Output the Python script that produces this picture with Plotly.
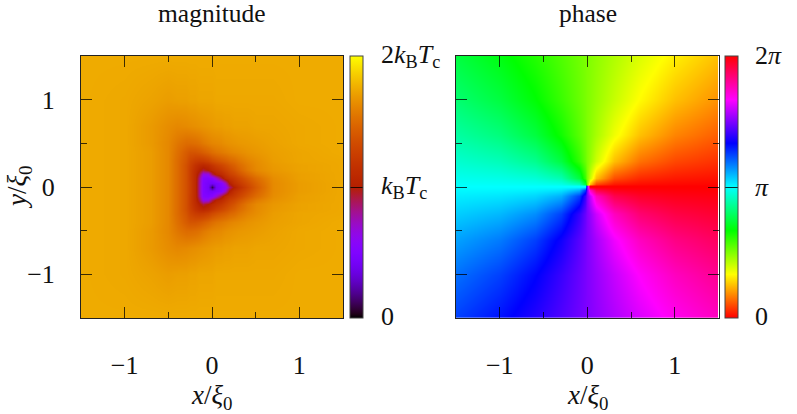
import math
import plotly.graph_objects as go

W, H = 797, 414
FONT = "Liberation Serif"

# magnitude (units of kB Tc); symmetric about y = 0
MAG_X = [-1.5,-1,-.7,-.5,-.4,-.3,-.25,-.2,-.15,-.1,-.05,0,.05,.1,.15,.2,.25,.3,.4,.5,.7,1,1.5]
MAG_Y_UPPER = [0,.05,.1,.15,.2,.25,.3,.4,.5,.7,1,1.5]
MAG_UPPER = [
 [1.75,1.74,1.70,1.62,1.50,1.36,1.25,1.10,0.80,0.50,0.42,0.10,0.42,0.50,0.56,0.84,1.02,1.12,1.28,1.42,1.63,1.70,1.74],
 [1.75,1.74,1.70,1.62,1.50,1.36,1.25,1.10,0.80,0.50,0.44,0.42,0.46,0.52,0.72,1.00,1.14,1.20,1.33,1.45,1.63,1.70,1.74],
 [1.75,1.74,1.70,1.62,1.50,1.36,1.24,1.10,0.82,0.52,0.50,0.54,0.70,0.92,1.08,1.16,1.22,1.28,1.40,1.50,1.64,1.71,1.74],
 [1.75,1.74,1.70,1.62,1.50,1.36,1.24,1.10,0.92,0.64,0.66,0.90,1.04,1.10,1.18,1.25,1.31,1.37,1.48,1.57,1.66,1.71,1.74],
 [1.75,1.74,1.70,1.62,1.50,1.36,1.24,1.12,1.02,0.92,1.00,1.08,1.14,1.20,1.26,1.32,1.38,1.44,1.55,1.62,1.68,1.72,1.74],
 [1.75,1.74,1.70,1.62,1.50,1.36,1.26,1.16,1.10,1.07,1.11,1.18,1.24,1.29,1.34,1.39,1.44,1.49,1.57,1.63,1.69,1.72,1.74],
 [1.75,1.74,1.70,1.62,1.50,1.38,1.29,1.23,1.21,1.22,1.26,1.32,1.36,1.40,1.43,1.47,1.50,1.54,1.60,1.64,1.70,1.73,1.74],
 [1.75,1.74,1.70,1.62,1.52,1.42,1.38,1.38,1.40,1.43,1.47,1.51,1.54,1.56,1.58,1.60,1.62,1.63,1.66,1.68,1.71,1.73,1.75],
 [1.75,1.74,1.69,1.62,1.55,1.50,1.50,1.51,1.53,1.56,1.59,1.61,1.62,1.63,1.65,1.66,1.67,1.68,1.69,1.70,1.72,1.74,1.75],
 [1.75,1.74,1.69,1.64,1.62,1.63,1.64,1.65,1.66,1.67,1.68,1.69,1.70,1.70,1.71,1.71,1.72,1.72,1.72,1.73,1.73,1.74,1.75],
 [1.75,1.74,1.72,1.70,1.71,1.71,1.72,1.72,1.73,1.73,1.73,1.73,1.74,1.74,1.74,1.74,1.74,1.74,1.74,1.74,1.74,1.75,1.75],
 [1.75,1.75,1.75,1.75,1.75,1.75,1.75,1.75,1.75,1.75,1.75,1.75,1.75,1.75,1.75,1.75,1.75,1.75,1.75,1.75,1.75,1.75,1.75],
]

# phase (degrees)
PH_X = [-1.5,-1,-.6,-.3,-.1,-.03,0,.03,.1,.3,.6,1,1.5]
PH_Y_UPPER = [0,.03,.1,.3,.6,1,1.5]
PH_UPPER = [
 [180,180,180,180,180,180,90,0,0,0,0,0,0],
 [178.9,178.3,177.1,174.3,163.3,135,90,45,16.7,5.7,2.9,1.7,1.1],
 [176.2,174.3,170.5,161.6,135,106.7,90,73.3,45,18.4,9.5,5.7,3.8],
 [168.7,163.3,153.4,135,108.4,95.7,90,84.3,71.6,45,26.6,16.7,11.3],
 [158.2,149,135,116.6,99.5,92.9,90,87.1,80.5,63.4,45,31,21.8],
 [146.3,135,121,106.7,95.7,91.7,90,88.3,84.3,73.3,59,45,33.7],
 [135,123.7,111.8,101.3,93.8,91.1,90,88.9,86.2,78.7,68.2,56.3,45],
]
PH_Y_LOWER = [-1.5,-1,-.6,-.3,-.1,-.03,0]
PH_LOWER = [
 [225,236.3,248.2,258.7,266.2,268.9,270,271.1,273.8,281.3,291.8,303.7,315],
 [213.7,225,239,253.3,264.3,268.3,270,271.7,275.7,286.7,301,315,326.3],
 [201.8,211,225,243.4,260.5,267.1,270,272.9,279.5,296.6,315,329,338.2],
 [191.3,196.7,206.6,225,251.6,264.3,270,275.7,288.4,315,333.4,343.3,348.7],
 [183.8,185.7,189.5,198.4,225,253.3,270,286.7,315,341.6,350.5,354.3,356.2],
 [181.1,181.7,182.9,185.7,196.7,225,270,315,343.3,354.3,357.1,358.3,358.9],
 [180,180,180,180,180,180,270,360,360,360,360,360,360],
]

MAG_TICKS = ["0", "<i>k</i><sub>B</sub><i>T</i><sub>c</sub>", "2<i>k</i><sub>B</sub><i>T</i><sub>c</sub>"]
PH_TICKS = ["0", "<i>π</i>", "2<i>π</i>"]

# gnuplot's traditional pm3d palette, as a colour scale
def pm3d(t):
    r = math.sqrt(t)
    g = t ** 3
    b = max(0.0, math.sin(2 * math.pi * t))
    return f"rgb({round(r*255)},{round(g*255)},{round(b*255)})"
PM3D = [[i / 64, pm3d(i / 64)] for i in range(65)]
HSV = [[0, "#ff0000"], [1/6, "#ffff00"], [2/6, "#00ff00"], [3/6, "#00ffff"],
       [4/6, "#0000ff"], [5/6, "#ff00ff"], [1, "#ff0000"]]

# pixel layout helpers
def fx(px): return px / W
def fy(py): return 1 - py / H

L1, R1, L2, R2, TOP, BOT = 81, 343, 456, 718.5, 56, 318

def cbar(left):
    return dict(x=fx(left), xanchor="left", xpad=0, ypad=0, y=fy(BOT), yanchor="bottom",
                len=(BOT - TOP) / H, lenmode="fraction", thickness=13, thicknessmode="pixels",
                outlinewidth=1, outlinecolor="#444", tickmode="array", showticklabels=False,
                ticks="inside", ticklen=13, tickwidth=1, tickcolor="rgba(0,0,0,0.8)")

mag_y = [-y for y in MAG_Y_UPPER[:0:-1]] + MAG_Y_UPPER
mag_z = MAG_UPPER[:0:-1] + MAG_UPPER

fig = go.Figure()
fig.add_trace(go.Heatmap(x=MAG_X, y=mag_y, z=mag_z, xaxis="x", yaxis="y", zmin=0, zmax=2,
                         zsmooth="best", colorscale=PM3D, hoverinfo="skip",
                         colorbar={**cbar(350), "tickvals": [1]}))
fig.add_trace(go.Heatmap(x=PH_X, y=PH_Y_UPPER, z=PH_UPPER, xaxis="x2", yaxis="y2", zmin=0, zmax=360,
                         zsmooth="best", colorscale=HSV, showscale=False, hoverinfo="skip"))
fig.add_trace(go.Heatmap(x=PH_X, y=PH_Y_LOWER, z=PH_LOWER, xaxis="x2", yaxis="y2", zmin=0, zmax=360,
                         zsmooth="best", colorscale=HSV, hoverinfo="skip",
                         colorbar={**cbar(725), "tickvals": [180]}))

TICKC = "rgba(0,0,0,0.75)"
def axis(domain, anchor, labels, standoff):
    return dict(domain=domain, anchor=anchor, range=[-1.5, 1.5], tickmode="array",
                tickvals=[-1, 0, 1], ticktext=["−1", "0", "1"], ticks="inside", ticklen=11, tickwidth=1,
                tickcolor=TICKC, mirror="allticks", showline=True, linecolor="#222", linewidth=1,
                showgrid=False, zeroline=False, showticklabels=labels,
                ticklabelstandoff=standoff,
                tickfont=dict(family=FONT, size=26, color="#111"),
                minor=dict(tickmode="array", tickvals=[-.5, .5], ticks="inside", ticklen=6, tickwidth=1,
                           tickcolor=TICKC, showgrid=False))

ann = []
def text(px, py, s, anchor="center", size=26, angle=0):
    ann.append(dict(x=fx(px), y=fy(py), xref="paper", yref="paper", text=s, showarrow=False,
                    xanchor=anchor, yanchor="middle", textangle=angle,
                    font=dict(family=FONT, size=size, color="#111")))

text(212, 13, "magnitude", size=25.5)
text(587.5, 13, "phase", size=25.5)
text(212, 397, "<i>x</i>/<i>ξ</i><sub>0</sub>", size=27)
text(587.5, 397, "<i>x</i>/<i>ξ</i><sub>0</sub>", size=27)
text(19, 187, "<i>y</i>/<i>ξ</i><sub>0</sub>", angle=-90, size=27)
for py, s in zip([316, 187, 56], MAG_TICKS):
    text(379, py, s, anchor="left")
for py, s in zip([316, 187, 56], PH_TICKS):
    text(753, py, s, anchor="left")

fig.update_layout(
    width=W, height=H, margin=dict(l=0, r=0, t=0, b=0), paper_bgcolor="white", plot_bgcolor="white",
    xaxis=axis([fx(L1), fx(R1)], "y", True, 24),
    yaxis=axis([fy(BOT), fy(TOP)], "x", True, 20),
    xaxis2=axis([fx(L2), fx(R2)], "y2", True, 24),
    yaxis2=axis([fy(BOT), fy(TOP)], "x2", False, 0),
    annotations=ann, showlegend=False,
)
fig.write_html("out.html", config={"displayModeBar": False},
               post_script="document.body.style.margin='0';document.body.style.overflow='hidden';")
